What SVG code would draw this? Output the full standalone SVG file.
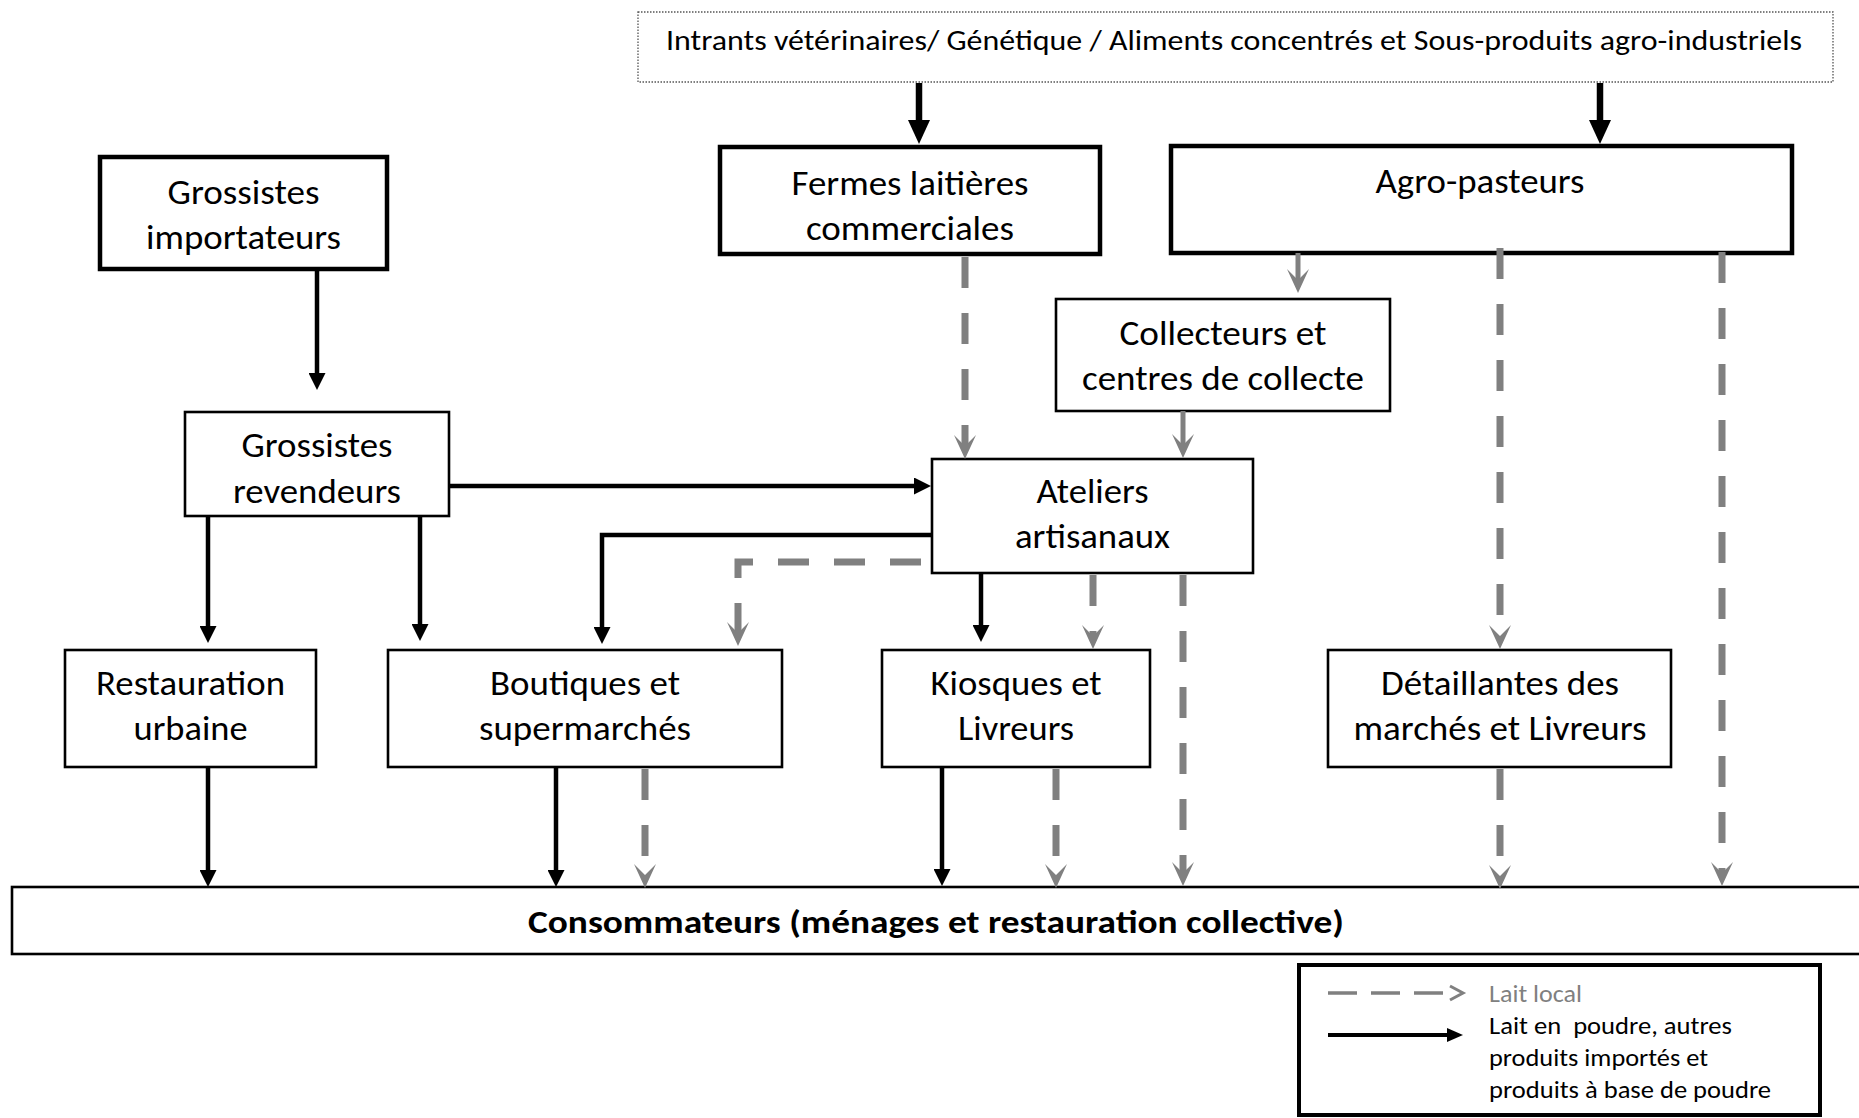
<svg xmlns="http://www.w3.org/2000/svg" width="1859" height="1118" viewBox="0 0 1859 1118">
<style>
  .t { font-family: Carlito, Lato, "Liberation Sans", sans-serif; font-size: 34px; fill: #000; text-anchor: middle; }
  .thick { fill: #fff; stroke: #000; stroke-width: 4.5; }
  .thin { fill: #fff; stroke: #000; stroke-width: 2.6; }
  .blk { fill: none; stroke: #000; stroke-width: 4.5; }
  .blkT { fill: none; stroke: #000; stroke-width: 6.5; }
  .gry { fill: none; stroke: #808080; stroke-width: 5; }
  .dsh { fill: none; stroke: #808080; stroke-width: 7; stroke-dasharray: 31 25; }
  .leg { font-family: Carlito, Lato, "Liberation Sans", sans-serif; font-size: 24.5px; }
</style>
<defs>
  <marker id="ab" markerUnits="userSpaceOnUse" viewBox="0 0 17 17" markerWidth="17" markerHeight="17" refX="1" refY="8.5" orient="auto">
    <path d="M0,0 L17,8.5 L0,17 z" fill="#000"/>
  </marker>
  <marker id="abT" markerUnits="userSpaceOnUse" viewBox="0 0 24 22" markerWidth="24" markerHeight="22" refX="1" refY="11" orient="auto">
    <path d="M0,0 L24,11 L0,22 z" fill="#000"/>
  </marker>
  <marker id="ag" markerUnits="userSpaceOnUse" viewBox="0 0 24 22" markerWidth="24" markerHeight="22" refX="11" refY="11" orient="auto">
    <path d="M0,0 L24,11 L0,22 L11,11 z" fill="#808080"/>
  </marker>
</defs>

<g id="node-intrants">
  <rect x="638" y="12" width="1195" height="70" fill="#fff" stroke="#555" stroke-width="1.3" stroke-dasharray="1.5 1.5"/>
  <text class="t" x="666" y="50" style="text-anchor:start;font-size:29px" textLength="1136" lengthAdjust="spacingAndGlyphs">Intrants vétérinaires/ Génétique / Aliments concentrés et Sous-produits agro-industriels</text>
</g>

<g id="node-importateurs">
  <rect class="thick" x="100" y="157" width="287" height="112"/>
  <text class="t" x="243.5" y="204" textLength="152" lengthAdjust="spacingAndGlyphs">Grossistes</text>
  <text class="t" x="243.5" y="249" textLength="195" lengthAdjust="spacingAndGlyphs">importateurs</text>
</g>

<g id="node-fermes">
  <rect class="thick" x="720" y="147" width="380" height="107"/>
  <text class="t" x="910" y="195" textLength="237" lengthAdjust="spacingAndGlyphs">Fermes laitières</text>
  <text class="t" x="910" y="240" textLength="208" lengthAdjust="spacingAndGlyphs">commerciales</text>
</g>

<g id="node-agro">
  <rect class="thick" x="1171" y="146" width="621" height="107"/>
  <text class="t" x="1480" y="193" textLength="209" lengthAdjust="spacingAndGlyphs">Agro-pasteurs</text>
</g>

<g id="node-revendeurs">
  <rect class="thin" x="185" y="412" width="264" height="104"/>
  <text class="t" x="317" y="457" textLength="151" lengthAdjust="spacingAndGlyphs">Grossistes</text>
  <text class="t" x="317" y="503" textLength="168" lengthAdjust="spacingAndGlyphs">revendeurs</text>
</g>

<g id="node-collecteurs">
  <rect class="thin" x="1056" y="299" width="334" height="112"/>
  <text class="t" x="1223" y="345" textLength="207" lengthAdjust="spacingAndGlyphs">Collecteurs et</text>
  <text class="t" x="1223" y="390" textLength="282" lengthAdjust="spacingAndGlyphs">centres de collecte</text>
</g>

<g id="node-ateliers">
  <rect class="thin" x="932" y="459" width="321" height="114"/>
  <text class="t" x="1092.5" y="503" textLength="112" lengthAdjust="spacingAndGlyphs">Ateliers</text>
  <text class="t" x="1092.5" y="548" textLength="155" lengthAdjust="spacingAndGlyphs">artisanaux</text>
</g>

<g id="node-restauration">
  <rect class="thin" x="65" y="650" width="251" height="117"/>
  <text class="t" x="190.5" y="695" textLength="189" lengthAdjust="spacingAndGlyphs">Restauration</text>
  <text class="t" x="190.5" y="740" textLength="114" lengthAdjust="spacingAndGlyphs">urbaine</text>
</g>

<g id="node-boutiques">
  <rect class="thin" x="388" y="650" width="394" height="117"/>
  <text class="t" x="585" y="695" textLength="190" lengthAdjust="spacingAndGlyphs">Boutiques et</text>
  <text class="t" x="585" y="740" textLength="212" lengthAdjust="spacingAndGlyphs">supermarchés</text>
</g>

<g id="node-kiosques">
  <rect class="thin" x="882" y="650" width="268" height="117"/>
  <text class="t" x="1016" y="695" textLength="171" lengthAdjust="spacingAndGlyphs">Kiosques et</text>
  <text class="t" x="1016" y="740" textLength="116" lengthAdjust="spacingAndGlyphs">Livreurs</text>
</g>

<g id="node-detaillantes">
  <rect class="thin" x="1328" y="650" width="343" height="117"/>
  <text class="t" x="1500" y="695" textLength="238" lengthAdjust="spacingAndGlyphs">Détaillantes des</text>
  <text class="t" x="1500" y="740" textLength="293" lengthAdjust="spacingAndGlyphs">marchés et Livreurs</text>
</g>

<g id="node-consommateurs">
  <rect class="thin" x="12" y="887" width="1860" height="67"/>
  <text class="t" x="936" y="933" style="font-weight:bold;font-size:32px" textLength="816" lengthAdjust="spacingAndGlyphs">Consommateurs (ménages et restauration collective)</text>
</g>

<g id="connectors">
  <path class="blkT" d="M919,83 V121" marker-end="url(#abT)"/>
  <path class="blkT" d="M1600,83 V121" marker-end="url(#abT)"/>
  <path class="blk" d="M317,271 V374" marker-end="url(#ab)"/>
  <path class="blk" d="M449,486 H915" marker-end="url(#ab)"/>
  <path class="blk" d="M208,516 V627" marker-end="url(#ab)"/>
  <path class="blk" d="M420,516 V625" marker-end="url(#ab)"/>
  <path class="blk" d="M932,535 H602 V628" marker-end="url(#ab)"/>
  <path class="blk" d="M981,573 V626" marker-end="url(#ab)"/>
  <path class="blk" d="M208,767 V871" marker-end="url(#ab)"/>
  <path class="blk" d="M556,767 V871" marker-end="url(#ab)"/>
  <path class="blk" d="M942,767 V870" marker-end="url(#ab)"/>
  <path class="gry" d="M1298,253 V280" marker-end="url(#ag)"/>
  <path class="gry" d="M1183,411 V445" marker-end="url(#ag)"/>
  <path class="dsh" d="M965,257 V446" marker-end="url(#ag)"/>
  <path class="dsh" d="M921,562 H738 V633" marker-end="url(#ag)"/>
  <path class="dsh" d="M1093,575 V636" marker-end="url(#ag)"/>
  <path class="dsh" d="M1183,575 V873" marker-end="url(#ag)"/>
  <path class="dsh" d="M1500,248 V636" marker-end="url(#ag)"/>
  <path class="dsh" d="M1722,252 V873" marker-end="url(#ag)"/>
  <path class="dsh" d="M645,769 V875" marker-end="url(#ag)"/>
  <path class="dsh" d="M1056,769 V875" marker-end="url(#ag)"/>
  <path class="dsh" d="M1500,769 V876" marker-end="url(#ag)"/>
</g>

<g id="legend">
  <rect x="1299" y="965" width="521" height="150" fill="#fff" stroke="#000" stroke-width="4"/>
  <path d="M1328,993 H1452" fill="none" stroke="#808080" stroke-width="3.5" stroke-dasharray="29 14"/>
  <path d="M1450,986 L1463,993 L1450,1000" fill="none" stroke="#808080" stroke-width="3"/>
  <path d="M1328,1035 H1450" fill="none" stroke="#000" stroke-width="4"/>
  <path d="M1447,1028 L1463,1035 L1447,1042 z" fill="#000"/>
  <text class="leg" x="1489" y="1002" fill="#808080" textLength="93" lengthAdjust="spacingAndGlyphs">Lait local</text>
  <text class="leg" x="1489" y="1034" fill="#000" textLength="243" lengthAdjust="spacingAndGlyphs" xml:space="preserve">Lait en  poudre, autres</text>
  <text class="leg" x="1489" y="1066" fill="#000" textLength="219" lengthAdjust="spacingAndGlyphs">produits importés et</text>
  <text class="leg" x="1489" y="1098" fill="#000" textLength="282" lengthAdjust="spacingAndGlyphs">produits à base de poudre</text>
</g>
</svg>
